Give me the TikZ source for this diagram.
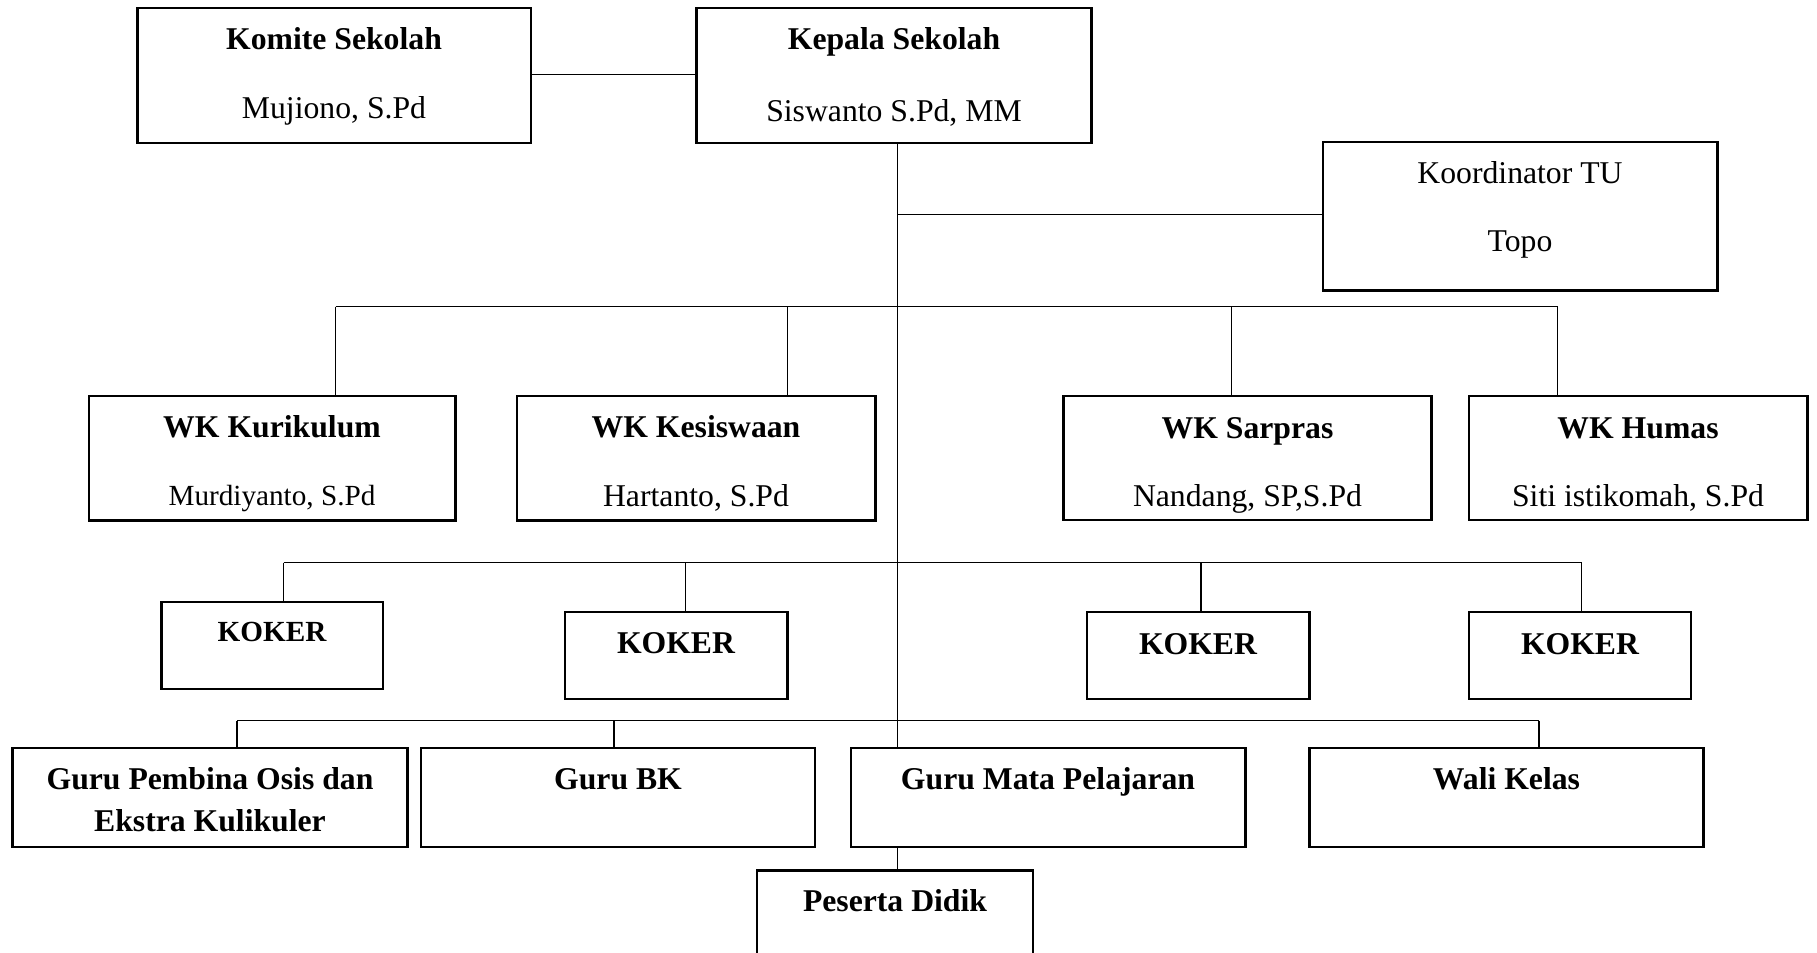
\documentclass[tikz,border=0pt]{standalone}
\usepackage{fontspec}
\setmainfont{Liberation Serif}
\usetikzlibrary{fit}
\begin{document}
\begin{tikzpicture}[x=0.5pt,y=-0.5pt,
  box/.style={draw, line width=1.1pt, inner sep=0pt},
  conn/.style={line width=0.95pt},
  tt/.style={anchor=base, inner sep=0pt, font=\fontsize{15.85}{19}\selectfont\bfseries},
  nn/.style={anchor=base, inner sep=0pt, font=\fontsize{15.85}{19}\selectfont},
  ns/.style={anchor=base, inner sep=0pt, font=\fontsize{14.6}{18}\selectfont},
  ts/.style={anchor=base, inner sep=0pt, font=\fontsize{14.6}{18}\selectfont\bfseries}]
\useasboundingbox (0,0) rectangle (1817,953);
\clip (0,0) rectangle (1817,953);
% boxes
\node[box, fit={(137.5,8)(531,143)}] (komite) {};
\node[box, fit={(696.5,8)(1091.5,143)}] (kepala) {};
\node[box, fit={(1323,142)(1717.5,290.5)}] (tu) {};
\node[box, fit={(89,396)(455.5,520.5)}] (wk1) {};
\node[box, fit={(517,396)(875.5,520.5)}] (wk2) {};
\node[box, fit={(1063.5,396)(1431.5,520)}] (wk3) {};
\node[box, fit={(1469,396)(1807.5,520)}] (wk4) {};
\node[box, fit={(161.5,602)(383,689)}] (k1) {};
\node[box, fit={(565,612)(787.5,699)}] (k2) {};
\node[box, fit={(1087,612)(1309.5,699)}] (k3) {};
\node[box, fit={(1469,612)(1691,699)}] (k4) {};
\node[box, fit={(12.5,748)(407.5,847)}] (g1) {};
\node[box, fit={(421,748)(815,847)}] (g2) {};
\node[box, fit={(851,748)(1245.5,847)}] (g3) {};
\node[box, fit={(1309.5,748)(1703.5,847)}] (g4) {};
\node[box, fit={(757,870.5)(1033,1000)}] (pd) {};
% texts
\node[tt] (t1) at (334,49) {Komite Sekolah};
\node[nn] (t2) at (334,118) {Mujiono, S.Pd};
\node[tt] (t3) at (894,49) {Kepala Sekolah};
\node[nn] (t4) at (894,121.5) {Siswanto S.Pd, MM};
\node[nn] (t5) at (1520,183) {Koordinator TU};
\node[nn] (t6) at (1520,251) {Topo};
\node[tt] (t7) at (272,437.5) {WK Kurikulum};
\node[ns] (t8) at (272,505) {Murdiyanto, S.Pd};
\node[tt] (t9) at (696,437.5) {WK Kesiswaan};
\node[nn] (t10) at (696,506) {Hartanto, S.Pd};
\node[tt] (t11) at (1247.5,438) {WK Sarpras};
\node[nn] (t12) at (1247.5,506) {Nandang, SP,S.Pd};
\node[tt] (t13) at (1638,438) {WK Humas};
\node[nn] (t14) at (1638,506) {Siti istikomah, S.Pd};
\node[ts] (t15) at (272,641) {KOKER};
\node[tt] (t16) at (676,653.5) {KOKER};
\node[tt] (t17) at (1198,654) {KOKER};
\node[tt] (t18) at (1580,654) {KOKER};
\node[tt] (t19) at (210,789.3) {Guru Pembina Osis dan};
\node[tt] (t20) at (210,831.7) {Ekstra Kulikuler};
\node[tt] (t21) at (618,789.3) {Guru BK};
\node[tt] (t22) at (1048,789.3) {Guru Mata Pelajaran};
\node[tt] (t23) at (1506.5,789.3) {Wali Kelas};
\node[tt] (t24) at (895,911.7) {Peserta Didik};
% helper coordinates
\coordinate (spine) at (897.5,0);
\coordinate (busA) at (0,306.5);
\coordinate (busB) at (0,562.5);
\coordinate (busC) at (0,720.5);
\coordinate (a1) at (335.5,0);
\coordinate (a2) at (787.5,0);
\coordinate (a3) at (1231.5,0);
\coordinate (a4) at (1557.5,0);
\coordinate (b1) at (283.5,0);
\coordinate (b2) at (685.5,0);
\coordinate (b3) at (1201,0);
\coordinate (b4) at (1581.5,0);
\coordinate (c1) at (237,0);
\coordinate (c2) at (614,0);
\coordinate (c4) at (1539,0);
% connectors
\draw[conn] (komite.east |- 0,74.5) -- (kepala.west |- 0,74.5);
\draw[conn] (kepala.south -| spine) -- (g3.north -| spine);
\draw[conn] (spine |- 0,214.5) -- (tu.west |- 0,214.5);
\draw[conn] (a1 |- busA) -- (a4 |- busA);
\draw[conn] (a1 |- busA) -- (wk1.north -| a1);
\draw[conn] (a2 |- busA) -- (wk2.north -| a2);
\draw[conn] (a3 |- busA) -- (wk3.north -| a3);
\draw[conn] (a4 |- busA) -- (wk4.north -| a4);
\draw[conn] (b1 |- busB) -- (b4 |- busB);
\draw[conn] (b1 |- busB) -- (k1.north -| b1);
\draw[conn] (b2 |- busB) -- (k2.north -| b2);
\draw[conn] (b3 |- busB) -- (k3.north -| b3);
\draw[conn] (b4 |- busB) -- (k4.north -| b4);
\draw[conn] (c1 |- busC) -- (c4 |- busC);
\draw[conn] (c1 |- busC) -- (g1.north -| c1);
\draw[conn] (c2 |- busC) -- (g2.north -| c2);
\draw[conn] (c4 |- busC) -- (g4.north -| c4);
\draw[conn] (g3.south -| spine) -- (pd.north -| spine);
\end{tikzpicture}
\end{document}
